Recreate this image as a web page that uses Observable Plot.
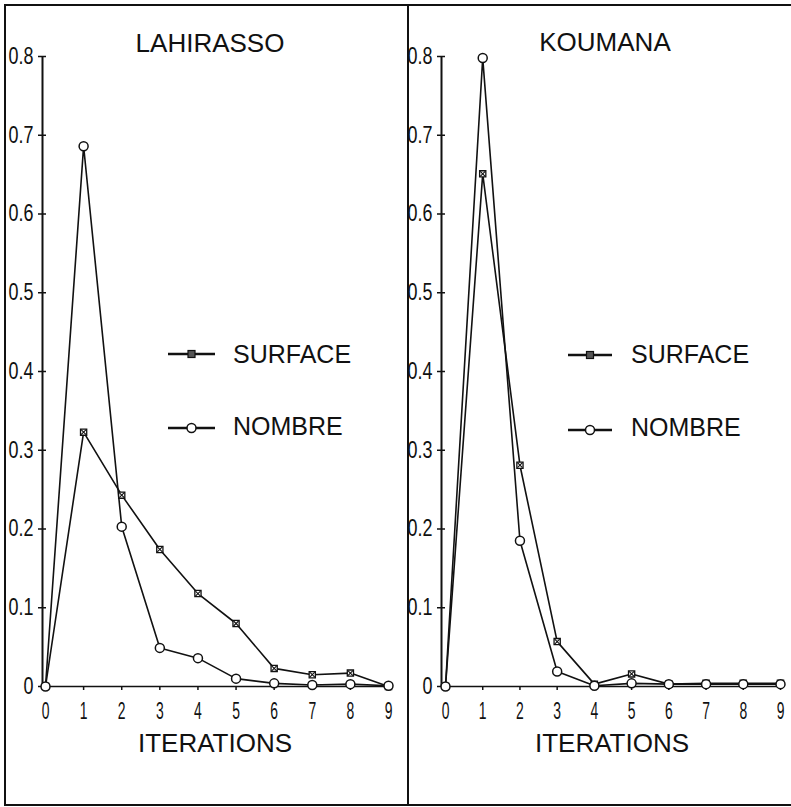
<!DOCTYPE html>
<html><head><meta charset="utf-8">
<script src="https://cdn.jsdelivr.net/npm/d3@7"></script>
<script src="https://cdn.jsdelivr.net/npm/@observablehq/plot@0.6"></script>
<style>
body{margin:0;background:#fff;overflow:hidden;}
#wrap{position:relative;width:791px;height:807px;overflow:hidden;background:#fff;font-family:"Liberation Sans",Arial,sans-serif;color:#111;}
.panel{position:absolute;top:0;}
.lbl{position:absolute;line-height:1;white-space:nowrap;transform:translateX(-50%);}
.leg{position:absolute;line-height:1;white-space:nowrap;font-size:25px;}
#frame{position:absolute;left:4px;top:4px;width:900px;height:798px;border-top:2px solid #111;border-left:2px solid #111;border-bottom:2px solid #111;}
#divider{position:absolute;left:407px;top:4px;width:2px;height:802px;background:#111;}
svg.sym{position:absolute;overflow:visible;}
</style></head>
<body>
<div id="wrap">
  <div id="frame"></div>
  <div id="divider"></div>
</div>
<script>
// ---- data ----
const iterations = [0, 1, 2, 3, 4, 5, 6, 7, 8, 9];
const lahirassoSurface = [0, 0.323, 0.243, 0.174, 0.118, 0.080, 0.023, 0.015, 0.017, 0];
const lahirassoNombre  = [0, 0.686, 0.203, 0.049, 0.036, 0.010, 0.004, 0.002, 0.003, 0.001];
const koumanaSurface   = [0, 0.651, 0.281, 0.057, 0.003, 0.016, 0.003, 0.004, 0.004, 0.004];
const koumanaNombre    = [0, 0.798, 0.185, 0.019, 0.001, 0.004, 0.003, 0.003, 0.003, 0.003];
const yTicks = [0, 0.1, 0.2, 0.3, 0.4, 0.5, 0.6, 0.7, 0.8];
const seriesNames = ["SURFACE", "NOMBRE"];
const panelTitles = ["LAHIRASSO", "KOUMANA"];
const xTitle = "ITERATIONS";

function table(surface, nombre) {
  const rows = [];
  iterations.forEach((it, i) => {
    rows.push({iter: it, value: surface[i], series: seriesNames[0]});
    rows.push({iter: it, value: nombre[i], series: seriesNames[1]});
  });
  return rows;
}

const wrap = document.getElementById("wrap");
const tickFont = "'Liberation Sans',Arial,sans-serif";

function condense(chart, ariaLabel, sx) {
  chart.querySelectorAll(`g[aria-label="${ariaLabel}"] text`).forEach(t => {
    const tr = t.getAttribute("transform") || "";
    t.setAttribute("transform", tr + ` scale(${sx},1)`);
  });
}

function makePanel(rows, opt) {
  const surf = rows.filter(d => d.series === seriesNames[0]);
  const nomb = rows.filter(d => d.series === seriesNames[1]);
  const chart = Plot.plot({
    width: opt.width, height: 807,
    marginLeft: opt.ml, marginRight: opt.mr, marginTop: 56, marginBottom: 121,
    x: {domain: [0, 9]},
    y: {domain: [0, 0.8]},
    style: {background: "transparent", color: "#111", overflow: "visible"},
    marks: [
      Plot.ruleY([0], {stroke: "#111", strokeWidth: 1.5}),
      Plot.ruleX([0], {stroke: "#111", strokeWidth: 2, dx: opt.axdx}),
      Plot.axisY({ticks: yTicks, tickFormat: d => d === 0 ? "0" : d.toFixed(1), tickSize: 8, tickPadding: 5, dx: opt.axdx + 4,
        fontSize: 23, fontFamily: tickFont, strokeWidth: 1.5, label: null}),
      Plot.axisX({ticks: iterations, tickFormat: d => String(d), tickSize: 4, tickPadding: 11,
        fontSize: 24, fontFamily: tickFont, strokeWidth: 1.5, label: null}),
      Plot.line(rows, {x: "iter", y: "value", z: "series", stroke: "#111", strokeWidth: 1.6}),
      Plot.dot(surf, {x: "iter", y: "value", symbol: "square", r: 3.5, fill: "#fff", stroke: "#111", strokeWidth: 1.3}),
      Plot.dot(surf, {x: "iter", y: "value", symbol: "times", r: 2.4, stroke: "#111", strokeWidth: 1.1}),
      Plot.dot(nomb, {x: "iter", y: "value", symbol: "circle", r: 4.5, fill: "#fff", stroke: "#111", strokeWidth: 1.5})
    ]
  });
  condense(chart, "y-axis tick label", 0.78);
  condense(chart, "x-axis tick label", 0.58);
  chart.classList.add("panel");
  chart.style.left = opt.left + "px";
  wrap.appendChild(chart);
}

makePanel(table(lahirassoSurface, lahirassoNombre), {left: 0, width: 409, ml: 45, mr: 21, axdx: -3});
makePanel(table(koumanaSurface, koumanaNombre), {left: 409, width: 382, ml: 36, mr: 11, axdx: -4});

function label(text, cx, top, size) {
  const d = document.createElement("div");
  d.className = "lbl";
  d.textContent = text;
  d.style.left = cx + "px";
  d.style.top = top + "px";
  d.style.fontSize = size + "px";
  wrap.appendChild(d);
}
label(panelTitles[0], 210, 30, 26);
label(panelTitles[1], 605, 29, 26);
label(xTitle, 215, 730, 26);
label(xTitle, 612, 730, 26);

function legend(x0, x1, textX, ys) {
  const ns = "http://www.w3.org/2000/svg";
  seriesNames.forEach((name, i) => {
    const y = ys[i];
    const svg = document.createElementNS(ns, "svg");
    svg.setAttribute("class", "sym");
    svg.setAttribute("width", x1 - x0 + 10);
    svg.setAttribute("height", 20);
    svg.style.left = (x0 - 5) + "px";
    svg.style.top = (y - 10) + "px";
    const cx = (x1 - x0) / 2 + 5;
    const ln = document.createElementNS(ns, "line");
    ln.setAttribute("x1", 5); ln.setAttribute("x2", x1 - x0 + 5);
    ln.setAttribute("y1", 10); ln.setAttribute("y2", 10);
    ln.setAttribute("stroke", "#111"); ln.setAttribute("stroke-width", 2.5);
    svg.appendChild(ln);
    if (i === 0) {
      const r = document.createElementNS(ns, "rect");
      r.setAttribute("x", cx - 3.5); r.setAttribute("y", 6.5);
      r.setAttribute("width", 7); r.setAttribute("height", 7);
      r.setAttribute("fill", "#555"); r.setAttribute("stroke", "#111"); r.setAttribute("stroke-width", 1.2);
      svg.appendChild(r);
    } else {
      const c = document.createElementNS(ns, "circle");
      c.setAttribute("cx", cx); c.setAttribute("cy", 10); c.setAttribute("r", 4.5);
      c.setAttribute("fill", "#fff"); c.setAttribute("stroke", "#111"); c.setAttribute("stroke-width", 1.5);
      svg.appendChild(c);
    }
    wrap.appendChild(svg);
    const t = document.createElement("div");
    t.className = "leg";
    t.textContent = name;
    t.style.left = textX + "px";
    t.style.top = (i === 0 ? ys[2] : ys[3]) + "px";
    wrap.appendChild(t);
  });
}
legend(168, 215, 233, [354, 428, 342, 414]);
legend(568, 612, 631, [355, 430, 342, 415]);
</script>
</body></html>
